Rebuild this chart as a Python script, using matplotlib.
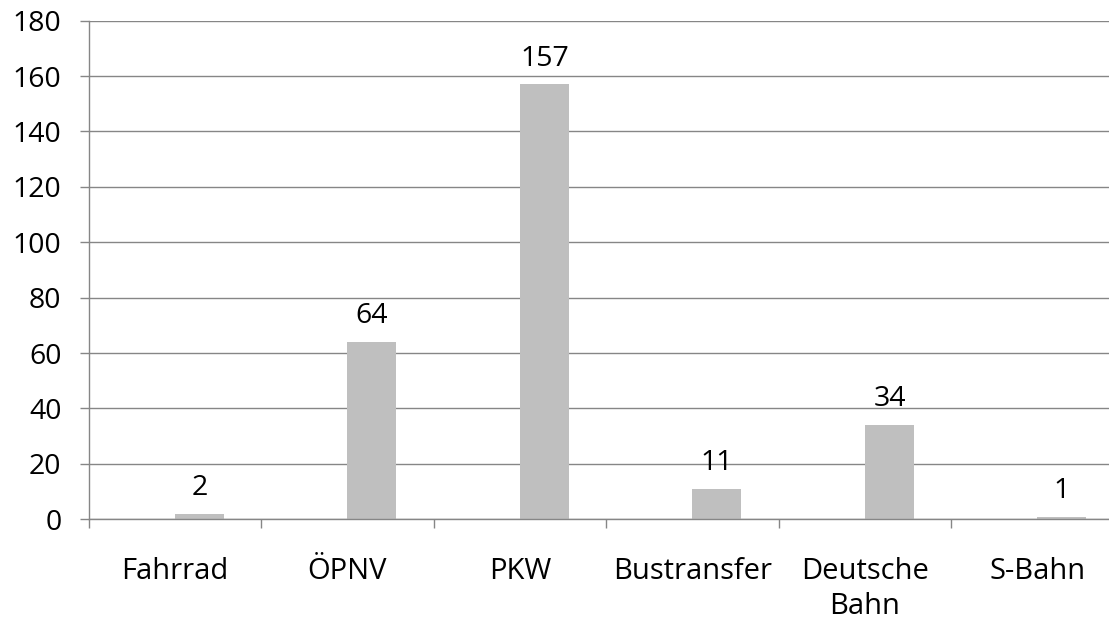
import numpy as np
import matplotlib.pyplot as plt

categories = ['Fahrrad', 'ÖPNV', 'PKW', 'Bustransfer', 'Deutsche\nBahn', 'S-Bahn']
values = [2, 64, 157, 11, 34, 1]
y_ticks = [0, 20, 40, 60, 80, 100, 120, 140, 160, 180]

plt.rcParams['font.family'] = ['Open Sans', 'DejaVu Sans']
GRID = '#868686'
BAR = '#BFBFBF'
FS = 20.5

W, H = 1109, 620
fig = plt.figure(figsize=(W / 100, H / 100), dpi=100)
left, bottom, top = 88.7, 100.7, 599.3
ax = fig.add_axes([left / W, bottom / H, (W - left) / W, (top - bottom) / H])

x = np.arange(len(categories))
# bars sit in the right half of each category slot (empty first series)
bar_w = 0.284
ax.bar(x, values, width=bar_w, align='edge', color=BAR, zorder=2)

for xi, v in zip(x, values):
    ax.annotate(str(v), (xi + bar_w / 2, v), xytext=(0, 13.5),
                textcoords='offset points', ha='center', va='baseline',
                fontsize=FS, color='black')

ax.set_yticks(y_ticks)
ax.yaxis.grid(True, color=GRID, linewidth=1.0)
ax.set_axisbelow(True)

ax.set_xticks(x)
ax.set_xticklabels(categories, linespacing=1.3)
ax.set_xticks(np.arange(len(categories) + 1) - 0.5, minor=True)
ax.tick_params(axis='x', which='major', length=0, pad=27, labelsize=FS + 0.5)
ax.tick_params(axis='x', which='minor', length=6.5, width=1.0, color=GRID, direction='out')
ax.tick_params(axis='y', length=6.5, width=1.0, color=GRID, pad=13, labelsize=FS)

# limits after the ticks, since set_xticks widens the view
ax.set_ylim(0, 180)
ax.set_xlim(-0.5, -0.5 + (W - left) / 172.5)

for s in ['top', 'right']:
    ax.spines[s].set_visible(False)
for s in ['left', 'bottom']:
    ax.spines[s].set_color(GRID)
    ax.spines[s].set_linewidth(1.0)

fig.savefig('out.png', dpi=100)
